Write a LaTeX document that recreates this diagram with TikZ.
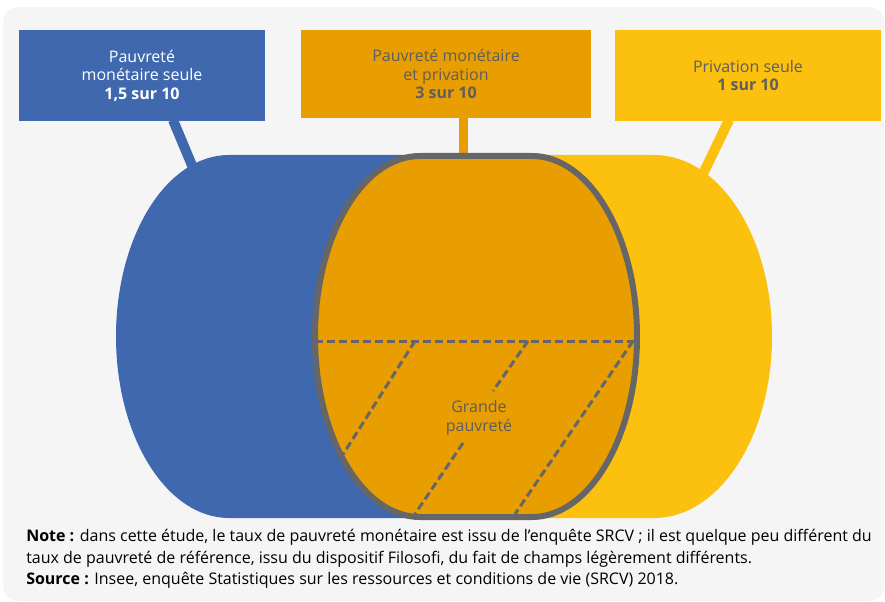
\documentclass[tikz,border=0pt]{standalone}
\usepackage{fontspec}
\setmainfont{Open Sans}
\definecolor{cblue}{HTML}{3F68AF}
\definecolor{corange}{HTML}{E89E00}
\definecolor{cyellow}{HTML}{FCC00F}
\definecolor{cgray}{HTML}{666666}
\definecolor{ctext}{HTML}{5E5E5E}
\definecolor{cbg}{HTML}{F5F5F5}
\tikzset{
  box/.style={inner sep=0pt, align=center, font=\fontsize{12}{13.9}\selectfont},
  link/.style={line width=7.5pt},
  dashline/.style={draw=cgray, line width=2.25pt, dash pattern=on 6pt off 3pt},
  notetext/.style={anchor=base west, inner sep=0pt, text=black, font=\fontsize{12}{16}\selectfont},
}
\begin{document}
\begin{tikzpicture}[x=0.75pt,y=0.75pt]
\useasboundingbox (0,0) rectangle (885,-602);
\fill[cbg, rounded corners=11.25pt] (3,-7) rectangle (884,-601);
% boxes
\node[box, fill=cblue, text=white, minimum width=184.5pt, minimum height=68.25pt] (nb) at (142,-75.5)
  {Pauvreté\\monétaire seule\\\textbf{1,5 sur 10}};
\node[box, fill=corange, text=ctext, minimum width=217.5pt, minimum height=66pt] (no) at (446,-74)
  {Pauvreté monétaire\\et privation\\\textbf{3 sur 10}};
\node[box, fill=cyellow, text=ctext, minimum width=199.5pt, minimum height=68.25pt] (ny) at (748,-75.5)
  {Privation seule\\\textbf{1 sur 10}};
% connector ends
\coordinate (bs) at (173,-120);
\coordinate (be) at (196,-175);
\coordinate (os) at (463,-117);
\coordinate (oe) at (463,-160);
\coordinate (ys) at (729,-120);
\coordinate (ye) at (701,-178);
\draw[link, cblue] (bs) -- (be);
\draw[link, corange, line width=6.75pt] (os) -- (oe);
\draw[link, cyellow] (ys) -- (ye);
% blue and yellow shapes
\fill[cblue] (229,-155) -- (480,-155) -- (480,-518) -- (229,-518)
  arc[start angle=270, end angle=90, x radius=113, y radius=181.5] -- cycle;
\fill[cyellow] (476,-155) -- (654,-155)
  arc[start angle=90, end angle=-90, x radius=118, y radius=181.5] -- (476,-518) -- cycle;
% orange shape
\draw[fill=corange, draw=cgray, line width=4.5pt] (420,-156) -- (532,-156)
  arc[start angle=90, end angle=-90, x radius=105, y radius=180.5] -- (420,-517)
  arc[start angle=270, end angle=90, x radius=105, y radius=180.5] -- cycle;
% dashed lines
\coordinate (h1) at (315,-341);
\coordinate (h2) at (637,-341);
\coordinate (d1a) at (415,-341);
\coordinate (d1b) at (342,-456);
\coordinate (d2a) at (528,-341);
\coordinate (d2b) at (493,-391);
\coordinate (d2c) at (463,-443);
\coordinate (d2d) at (415,-514);
\coordinate (d3a) at (633,-341);
\coordinate (d3b) at (515,-514);
\draw[dashline] (h1) -- (h2);
\draw[dashline] (d1a) -- (d1b);
\draw[dashline] (d2a) -- (d2b);
\draw[dashline] (d2c) -- (d2d);
\draw[dashline] (d3a) -- (d3b);
\node[box, text=ctext, font=\fontsize{12}{14.25}\selectfont] (gp) at (479,-418) {Grande\\pauvreté};
% notes
\node[notetext] (n1) at (26,-541) {\textbf{Note :} dans cette étude, le taux de pauvreté monétaire est issu de l’enquête SRCV ; il est quelque peu différent du};
\node[notetext] (n2) at (26,-563) {taux de pauvreté de référence, issu du dispositif Filosofi, du fait de champs légèrement différents.};
\node[notetext] (n3) at (26,-584) {\textbf{Source :} Insee, enquête Statistiques sur les ressources et conditions de vie (SRCV) 2018.};
\end{tikzpicture}
\end{document}
